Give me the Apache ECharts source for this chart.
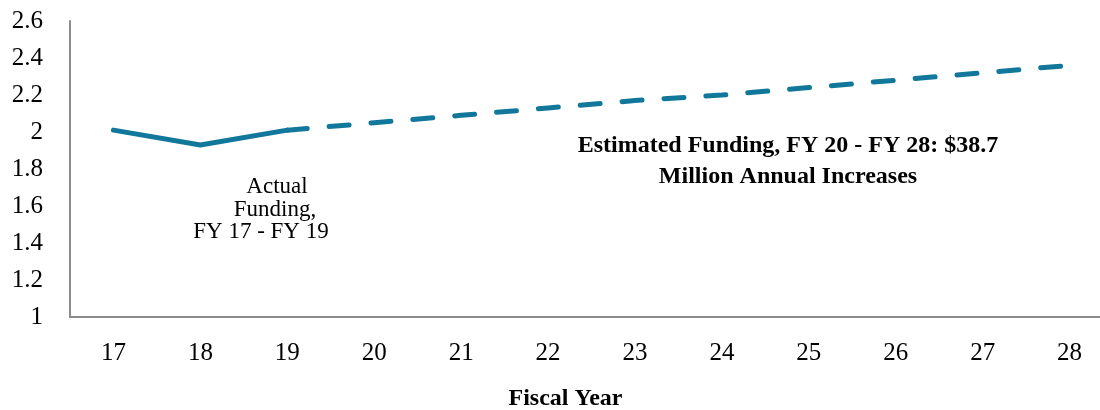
<!DOCTYPE html>
<html>
<head>
<meta charset="utf-8">
<script src="https://cdn.jsdelivr.net/npm/echarts@6/dist/echarts.min.js"></script>
<style>
  html, body { margin: 0; padding: 0; background: #fff; }
  #chart { width: 1100px; height: 410px; }
</style>
</head>
<body>
<div id="chart"></div>
<script>
// Fiscal years on the x axis
const fiscalYears = ['17', '18', '19', '20', '21', '22', '23', '24', '25', '26', '27', '28'];
// Actual funding, FY 17 - FY 19
const actualFunding = [2.01, 1.93, 2.01, null, null, null, null, null, null, null, null, null];
// Estimated funding, FY 19 - FY 28
const estimatedFunding = [null, null, 2.01, 2.05, 2.09, 2.13, 2.17, 2.20, 2.24, 2.28, 2.32, 2.36];

const FONT = '"Palatino Linotype", "Book Antiqua", Palatino, "Liberation Serif", "DejaVu Serif", serif';
const LINE_COLOR = '#12789b';

const chart = echarts.init(document.getElementById('chart'));
chart.setOption({
  animation: false,
  grid: { left: 70, top: 21, width: 1043, bottom: 93, outerBoundsMode: 'none', containLabel: false },
  xAxis: {
    type: 'category',
    data: fiscalYears,
    boundaryGap: true,
    name: 'Fiscal Year',
    nameLocation: 'middle',
    nameGap: 70,
    nameTextStyle: { fontFamily: FONT, fontSize: 24, fontWeight: 'bold', color: '#000', padding: [0, 0, 0, -52] },
    axisLine: { lineStyle: { color: '#8c8c8c', width: 2 } },
    axisTick: { show: false },
    axisLabel: { fontFamily: FONT, fontSize: 25, color: '#000', margin: 24 },
    splitLine: { show: false }
  },
  yAxis: {
    type: 'value',
    min: 1,
    max: 2.6,
    interval: 0.2,
    axisLine: { show: true, lineStyle: { color: '#8c8c8c', width: 2 } },
    axisTick: { show: false },
    splitLine: { show: false },
    axisLabel: {
      fontFamily: FONT, fontSize: 25, color: '#000', margin: 27,
      formatter: v => String(Math.round(v * 10) / 10)
    }
  },
  series: [
    {
      type: 'line',
      data: actualFunding,
      symbol: 'none',
      lineStyle: { color: LINE_COLOR, width: 5, cap: 'round', join: 'round' }
    },
    {
      type: 'line',
      data: estimatedFunding,
      symbol: 'none',
      lineStyle: { color: LINE_COLOR, width: 5, type: [20, 22], cap: 'round' }
    }
  ],
  graphic: [
    { type: 'text', style: { x: 277, y: 187, text: 'Actual', textAlign: 'center', textVerticalAlign: 'middle', font: '23px ' + FONT, fill: '#000' } },
    { type: 'text', style: { x: 275, y: 210, text: 'Funding,', textAlign: 'center', textVerticalAlign: 'middle', font: '23px ' + FONT, fill: '#000' } },
    { type: 'text', style: { x: 261, y: 232, text: 'FY 17 - FY 19', textAlign: 'center', textVerticalAlign: 'middle', font: '23px ' + FONT, fill: '#000' } },
    { type: 'text', style: { x: 788, y: 146, text: 'Estimated Funding, FY 20 - FY 28: $38.7', textAlign: 'center', textVerticalAlign: 'middle', font: 'bold 24px ' + FONT, fill: '#000' } },
    { type: 'text', style: { x: 788, y: 177, text: 'Million Annual Increases', textAlign: 'center', textVerticalAlign: 'middle', font: 'bold 24px ' + FONT, fill: '#000' } }
  ]
});
</script>
</body>
</html>
